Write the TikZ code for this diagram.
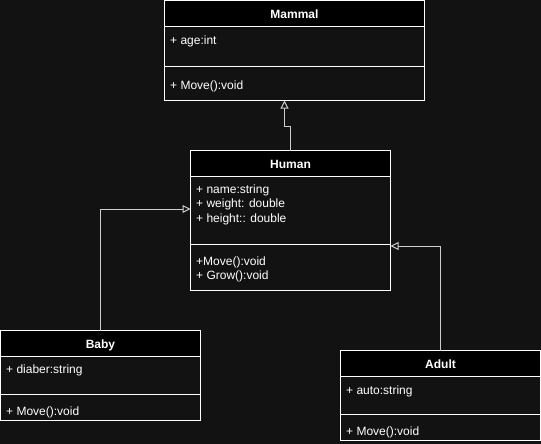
\documentclass[tikz,border=0pt]{standalone}
\usepackage{fontspec}
\setmainfont{Liberation Sans}
\usetikzlibrary{arrows.meta,calc}
\definecolor{bg}{RGB}{18,18,18}
\definecolor{conn}{RGB}{205,205,205}
\tikzset{
  sec/.style={draw=white, line width=1pt, fill=bg, anchor=north west, inner sep=0pt, outer sep=0pt},
  hdr/.style={sec, fill=black, font=\bfseries\fontsize{12}{14}\selectfont, text=white, text height=10.6pt, text depth=0pt},
  txt/.style={anchor=west, inner sep=0pt, text=white, font=\fontsize{12}{14.5}\selectfont, align=left},
  inh/.style={draw=conn, line width=1pt, -{Triangle[open, length=8pt, width=8pt, fill=bg]}},
}
\begin{document}
\begin{tikzpicture}[x=1pt,y=-1pt]
\fill[bg] (0,0) rectangle (541,444);
\useasboundingbox (0,0) rectangle (541,444);
% Mammal
\node[hdr, minimum width=260pt, minimum height=26pt] (mammalH) at (164.5,0.5) {Mammal};
\node[sec, minimum width=260pt, minimum height=40pt] (mammalA) at (164.5,26.5) {};
\node[sec, minimum width=260pt, minimum height=34pt] (mammalM) at (164.5,66.5) {};
\node[txt] (mammalAt) at (170,41.5) {+ age:int};
\node[txt] (mammalMt) at (170,86.5) {+ Move():void};
% Human
\node[hdr, minimum width=200pt, minimum height=26pt] (humanH) at (190.5,150.5) {Human};
\node[sec, minimum width=200pt, minimum height=68pt] (humanA) at (190.5,176.5) {};
\node[sec, minimum width=200pt, minimum height=46pt] (humanM) at (190.5,244.5) {};
\node[txt, anchor=north west] (humanAt) at (196,184.5) {+ name:string\\+ weight: double\\+ height:: double};
\node[txt, anchor=north west] (humanMt) at (196,256.5) {+Move():void\\+ Grow():void};
% Baby
\node[hdr, minimum width=200pt, minimum height=26pt] (babyH) at (0.5,330.5) {Baby};
\node[sec, minimum width=200pt, minimum height=38pt] (babyA) at (0.5,356.5) {};
\node[sec, minimum width=200pt, minimum height=26pt] (babyM) at (0.5,394.5) {};
\node[txt] (babyAt) at (6,370.5) {+ diaber:string};
\node[txt] (babyMt) at (6,412.5) {+ Move():void};
% Adult
\node[hdr, minimum width=200pt, minimum height=26pt] (adultH) at (340.5,350.5) {Adult};
\node[sec, minimum width=200pt, minimum height=38pt] (adultA) at (340.5,376.5) {};
\node[sec, minimum width=200pt, minimum height=26pt] (adultM) at (340.5,414.5) {};
\node[txt] (adultAt) at (346,391.5) {+ auto:string};
\node[txt] (adultMt) at (346,432.5) {+ Move():void};
% connectors
\draw[inh] (humanH.north) |- ($(mammalM.south west)+(120,26)$) -- ($(mammalM.south west)+(120,0)$);
\draw[inh] (babyH.north) |- ($(humanA.west)+(0,-1.5)$);
\draw[inh] (adultH.north) |- ($(humanM.north east)+(0,1.5)$);
\end{tikzpicture}
\end{document}
